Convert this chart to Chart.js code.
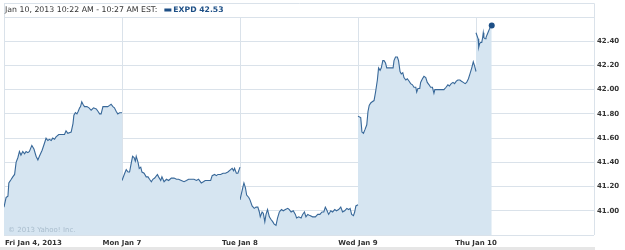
<!DOCTYPE html>
<html>
<head>
<meta charset="utf-8">
<title>EXPD 5-day</title>
<script src="https://cdn.jsdelivr.net/npm/chart.js@4/dist/chart.umd.min.js"></script>
<style>
  html, body { margin: 0; padding: 0; background: #fff; }
  #wrap { width: 625px; height: 250px; position: relative; }
</style>
</head>
<body>
<div id="wrap"><canvas id="chart" width="625" height="250"></canvas></div>
<script>
// Day labels (one trading session each, 390 minutes from 9:30 to 16:00)
const dayLabels = ['Fri Jan 4, 2013', 'Mon Jan 7', 'Tue Jan 8', 'Wed Jan 9', 'Thu Jan 10'];
const sessionMinutes = 390;

// Y axis ticks
const yTicks = [41.00, 41.20, 41.40, 41.60, 41.80, 42.00, 42.20, 42.40];
const yMin = 40.80;
const yMax = 42.60;

// Minutes after the open, and price, per day
const friMinutes = [0, 7, 13, 16, 24, 29, 35, 40, 46, 51, 56, 62, 68, 73, 79, 84, 92, 99, 106, 112,
  117, 126, 134, 139, 145, 150, 156, 161, 167, 172, 181, 189, 194, 200, 205, 211, 222, 228, 231, 236,
  241, 245, 250, 253, 257, 261, 266, 274, 281, 288, 296, 305, 311, 316, 321, 327, 336, 343, 349, 354,
  360, 365, 371, 376, 382, 390];
const friPrices = [41.03, 41.11, 41.12, 41.23, 41.26, 41.28, 41.30, 41.40, 41.44, 41.49, 41.46, 41.49, 41.47, 41.49, 41.48, 41.49, 41.54, 41.51, 41.45, 41.42,
  41.45, 41.50, 41.56, 41.60, 41.58, 41.59, 41.58, 41.60, 41.59, 41.61, 41.63, 41.63, 41.63, 41.63, 41.66, 41.64, 41.65, 41.72, 41.79, 41.81,
  41.80, 41.82, 41.85, 41.86, 41.90, 41.88, 41.86, 41.86, 41.85, 41.83, 41.85, 41.84, 41.82, 41.80, 41.80, 41.86, 41.86, 41.86, 41.87, 41.88,
  41.86, 41.85, 41.82, 41.80, 41.81, 41.81];

const monMinutes = [0, 9, 14, 20, 25, 31, 35, 40, 44, 47, 53, 57, 62, 66, 73, 80, 86, 91, 97, 102,
  108, 117, 121, 128, 132, 139, 147, 154, 163, 172, 180, 187, 196, 205, 213, 220, 229, 238, 246, 253,
  262, 269, 275, 284, 293, 298, 306, 312, 317, 326, 334, 342, 350, 359, 364, 369, 372, 378, 383, 390];
const monPrices = [41.25, 41.31, 41.34, 41.32, 41.32, 41.40, 41.45, 41.44, 41.41, 41.45, 41.40, 41.35, 41.36, 41.32, 41.31, 41.28, 41.28, 41.26, 41.24, 41.26,
  41.27, 41.30, 41.28, 41.25, 41.28, 41.24, 41.26, 41.25, 41.27, 41.27, 41.26, 41.26, 41.25, 41.24, 41.25, 41.26, 41.26, 41.26, 41.25, 41.26,
  41.23, 41.24, 41.25, 41.25, 41.25, 41.29, 41.30, 41.29, 41.30, 41.30, 41.31, 41.31, 41.32, 41.34, 41.35, 41.33, 41.35, 41.31, 41.31, 41.36];

const tueMinutes = [0, 9, 13, 18, 22, 29, 33, 40, 47, 53, 59, 64, 67, 73, 77, 82, 86, 91, 97, 102,
  108, 113, 119, 124, 130, 137, 143, 150, 158, 163, 169, 176, 183, 187, 194, 202, 207, 213, 218, 224,
  231, 240, 249, 257, 264, 271, 277, 282, 286, 293, 300, 306, 313, 319, 326, 333, 339, 346, 353, 359,
  364, 369, 375, 379, 383, 390];
const tuePrices = [41.09, 41.19, 41.23, 41.19, 41.13, 41.11, 41.09, 41.04, 41.02, 41.03, 41.03, 40.99, 40.95, 40.99, 40.98, 40.91, 40.97, 41.01, 40.95, 40.93,
  40.91, 40.89, 40.88, 40.94, 40.99, 41.01, 41.00, 41.01, 41.02, 41.01, 40.99, 41.00, 40.97, 40.94, 40.95, 40.94, 40.97, 40.99, 40.95, 40.97,
  40.96, 40.95, 40.95, 40.97, 40.97, 40.99, 40.99, 41.03, 41.01, 40.97, 41.00, 40.99, 41.01, 41.00, 41.01, 41.03, 40.99, 41.00, 41.02, 41.01,
  41.02, 40.97, 40.96, 40.99, 41.04, 41.05];

const wedMinutes = [0, 9, 13, 18, 23, 29, 33, 37, 42, 47, 53, 58, 64, 68, 73, 77, 82, 86, 91, 95,
  100, 108, 116, 119, 124, 130, 134, 139, 143, 148, 152, 158, 163, 169, 174, 180, 185, 191, 194, 198,
  204, 207, 213, 218, 224, 229, 235, 240, 246, 251, 254, 260, 268, 275, 284, 291, 297, 302, 308, 314,
  319, 325, 330, 337, 342, 348, 354, 359, 365, 370, 376, 381, 386, 390];
const wedPrices = [41.78, 41.77, 41.65, 41.64, 41.67, 41.71, 41.82, 41.87, 41.89, 41.90, 41.91, 41.98, 42.08, 42.18, 42.16, 42.18, 42.24, 42.24, 42.22, 42.18,
  42.18, 42.18, 42.18, 42.24, 42.27, 42.27, 42.24, 42.15, 42.13, 42.14, 42.10, 42.08, 42.09, 42.07, 42.05, 42.04, 42.02, 42.02, 41.98, 42.01,
  42.01, 42.06, 42.09, 42.11, 42.10, 42.06, 42.04, 42.02, 42.02, 41.97, 42.00, 42.00, 42.00, 42.00, 42.00, 42.02, 42.04, 42.03, 42.05, 42.06,
  42.05, 42.07, 42.08, 42.08, 42.07, 42.06, 42.05, 42.06, 42.09, 42.13, 42.18, 42.23, 42.19, 42.15];

const thuMinutes = [0, 7, 9, 12, 15, 19, 22, 24, 26, 30, 33, 36, 41, 46, 52];
const thuPrices = [42.47, 42.42, 42.35, 42.38, 42.39, 42.39, 42.43, 42.47, 42.43, 42.42, 42.43, 42.45, 42.48, 42.51, 42.53];

const ticker = 'EXPD';
const headerText = 'Jan 10, 2013 10:22 AM - 10:27 AM EST:';

// Colours
const lineColor = '#386899';
const fillColor = '#d6e5f1';
const gridColor = '#dae2ea';
const dotColor = '#1d4f86';
const textColor = '#333333';
const FONT = '"DejaVu Sans", Verdana, sans-serif';

const days = [
  [friMinutes, friPrices],
  [monMinutes, monPrices],
  [tueMinutes, tuePrices],
  [wedMinutes, wedPrices],
  [thuMinutes, thuPrices]
];

function buildDataset(dayIdx) {
  const minutes = days[dayIdx][0];
  const prices = days[dayIdx][1];
  const isLast = dayIdx === days.length - 1;
  return {
    data: minutes.map((m, i) => ({ x: dayIdx * sessionMinutes + m, y: prices[i] })),
    borderColor: lineColor,
    borderWidth: 1.1,
    backgroundColor: fillColor,
    fill: 'start',
    tension: 0,
    pointRadius: isLast ? (ctx => ctx.dataIndex === prices.length - 1 ? 3 : 0) : 0,
    pointBackgroundColor: dotColor,
    pointBorderColor: dotColor,
    pointBorderWidth: 0
  };
}

// Header, day labels, copyright and frame
const decorPlugin = {
  id: 'decor',
  afterDraw(chart) {
    const ctx = chart.ctx;
    const area = chart.chartArea;
    const xs = chart.scales.x;
    ctx.save();

    // frame above the plot (legend strip)
    ctx.strokeStyle = gridColor;
    ctx.lineWidth = 1;
    ctx.beginPath();
    ctx.moveTo(area.left, 3.5);
    ctx.lineTo(area.right + 0.5, 3.5);
    ctx.moveTo(area.right + 0.5, 3.5);
    ctx.lineTo(area.right + 0.5, area.top);
    ctx.moveTo(area.left + 0.5, 3.5);
    ctx.lineTo(area.left + 0.5, area.top);
    ctx.stroke();

    // header text
    ctx.textBaseline = 'middle';
    ctx.textAlign = 'left';
    ctx.font = '7.8px ' + FONT;
    ctx.fillStyle = textColor;
    ctx.fillText(headerText, 5, 10);
    let x = 5 + ctx.measureText(headerText).width + 7;
    ctx.fillStyle = dotColor;
    ctx.fillRect(x, 8.5, 7, 3);
    ctx.font = 'bold 7.7px ' + FONT;
    const last = thuPrices[thuPrices.length - 1];
    ctx.fillText(ticker + ' ' + last.toFixed(2), x + 9, 10);

    // day labels
    ctx.fillStyle = textColor;
    ctx.font = 'bold 7px ' + FONT;
    dayLabels.forEach((lbl, i) => {
      const px = xs.getPixelForValue(i * sessionMinutes);
      ctx.textAlign = i === 0 ? 'left' : 'center';
      ctx.fillText(lbl, i === 0 ? px + 1 : px, 243);
    });

    // copyright
    ctx.textAlign = 'left';
    ctx.font = '7px ' + FONT;
    ctx.fillStyle = '#a9bdcd';
    ctx.fillText('\u00a9 2013 Yahoo! Inc.', area.left + 4, 230);

    // bottom bar
    ctx.fillStyle = '#e6e6e6';
    ctx.fillRect(0, 247, area.right + 1, 3);
    ctx.restore();
  }
};

new Chart(document.getElementById('chart'), {
  type: 'line',
  data: { datasets: days.map((d, i) => buildDataset(i)) },
  options: {
    responsive: false,
    animation: false,
    layout: { padding: { left: 4, top: 17, right: 0, bottom: 0 } },
    plugins: { legend: { display: false }, tooltip: { enabled: false } },
    scales: {
      x: {
        type: 'linear',
        min: 0,
        max: sessionMinutes * dayLabels.length,
        z: 1,
        border: { display: false },
        grid: { color: gridColor, drawTicks: false, lineWidth: 1 },
        ticks: { stepSize: sessionMinutes, display: false },
        afterFit(scale) { scale.height = 15; }
      },
      y: {
        position: 'right',
        min: yMin,
        max: yMax,
        z: 1,
        border: { display: false },
        grid: { color: gridColor, drawTicks: false, lineWidth: 1 },
        afterBuildTicks(scale) {
          scale.ticks = [yMin].concat(yTicks, [yMax]).map(v => ({ value: v }));
        },
        ticks: {
          padding: 3,
          color: textColor,
          font: { family: FONT, size: 7, weight: 'bold' },
          callback: v => (yTicks.some(t => Math.abs(t - v) < 1e-6) ? Number(v).toFixed(2) : '')
        },
        afterFit(scale) { scale.width = 31; }
      }
    }
  },
  plugins: [decorPlugin]
});
</script>
</body>
</html>
